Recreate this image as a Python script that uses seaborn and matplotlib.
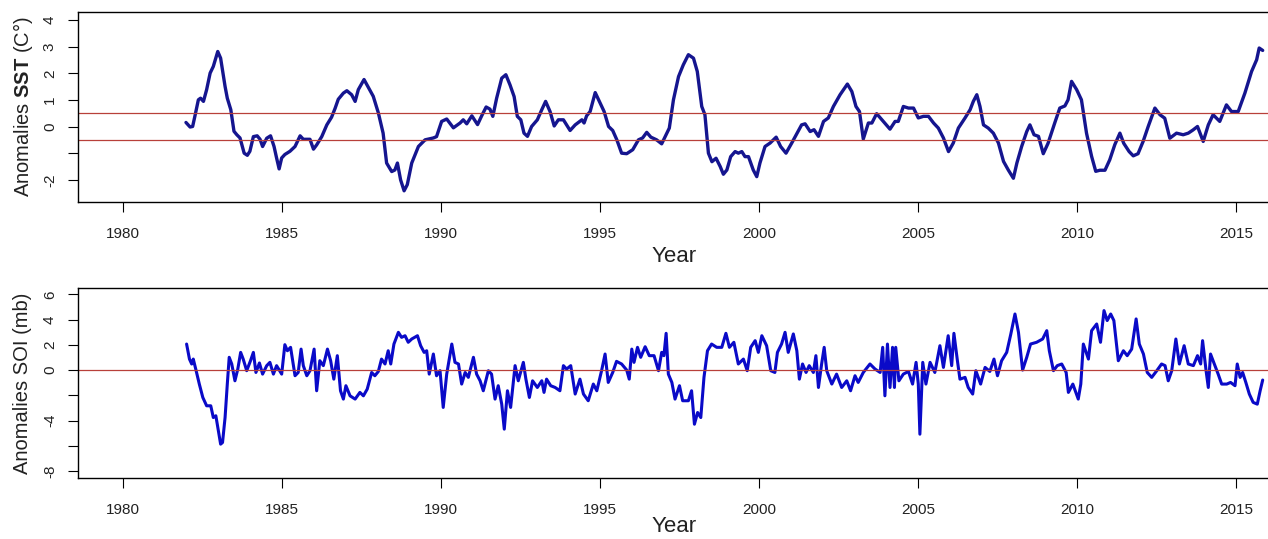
import pandas as pd
import matplotlib
matplotlib.use('Agg')
import matplotlib.pyplot as plt
import seaborn as sns

# SST anomalies (C°)
sst_year = [1981.98, 1982.11, 1982.19, 1982.26, 1982.37, 1982.44, 1982.53, 1982.63, 1982.74, 1982.84,
            1982.98, 1983.07, 1983.21, 1983.28, 1983.39, 1983.49, 1983.58, 1983.68, 1983.81, 1983.91,
            1983.99, 1984.10, 1984.22, 1984.31, 1984.39, 1984.52, 1984.64, 1984.75, 1984.83, 1984.91,
            1984.99, 1985.09, 1985.25, 1985.41, 1985.57, 1985.67, 1985.78, 1985.88, 1985.99, 1986.09,
            1986.25, 1986.41, 1986.56, 1986.67, 1986.77, 1986.93, 1987.04, 1987.19, 1987.30, 1987.40,
            1987.58, 1987.71, 1987.87, 1988.03, 1988.18, 1988.29, 1988.45, 1988.55, 1988.63, 1988.73,
            1988.84, 1988.94, 1989.08, 1989.29, 1989.50, 1989.76, 1989.86, 1990.02, 1990.18, 1990.39,
            1990.60, 1990.70, 1990.81, 1990.97, 1991.15, 1991.28, 1991.42, 1991.54, 1991.63, 1991.75,
            1991.91, 1992.04, 1992.17, 1992.30, 1992.40, 1992.51, 1992.61, 1992.72, 1992.85, 1993.03,
            1993.17, 1993.29, 1993.43, 1993.56, 1993.69, 1993.85, 1994.06, 1994.22, 1994.43, 1994.50,
            1994.58, 1994.69, 1994.85, 1994.98, 1995.13, 1995.27, 1995.40, 1995.53, 1995.68, 1995.84,
            1996.03, 1996.21, 1996.34, 1996.47, 1996.60, 1996.78, 1996.94, 1997.08, 1997.18, 1997.31,
            1997.47, 1997.62, 1997.78, 1997.94, 1998.06, 1998.20, 1998.30, 1998.41, 1998.52, 1998.65,
            1998.78, 1998.88, 1998.99, 1999.11, 1999.25, 1999.35, 1999.46, 1999.56, 1999.67, 1999.82,
            1999.93, 2000.03, 2000.19, 2000.35, 2000.54, 2000.68, 2000.85, 2001.03, 2001.19, 2001.34,
            2001.45, 2001.61, 2001.73, 2001.87, 2002.03, 2002.18, 2002.34, 2002.55, 2002.78, 2002.92,
            2003.05, 2003.16, 2003.28, 2003.44, 2003.55, 2003.70, 2003.91, 2004.12, 2004.28, 2004.38,
            2004.54, 2004.70, 2004.86, 2005.01, 2005.17, 2005.33, 2005.49, 2005.64, 2005.80, 2005.96,
            2006.11, 2006.27, 2006.48, 2006.64, 2006.74, 2006.85, 2006.95, 2007.06, 2007.21, 2007.37,
            2007.53, 2007.69, 2007.84, 2008.00, 2008.11, 2008.26, 2008.42, 2008.52, 2008.65, 2008.79,
            2008.94, 2009.09, 2009.30, 2009.46, 2009.62, 2009.72, 2009.83, 2009.99, 2010.14, 2010.30,
            2010.46, 2010.59, 2010.72, 2010.88, 2011.03, 2011.19, 2011.35, 2011.47, 2011.64, 2011.77,
            2011.92, 2012.08, 2012.24, 2012.45, 2012.61, 2012.76, 2012.92, 2013.13, 2013.34, 2013.50,
            2013.65, 2013.79, 2013.97, 2014.13, 2014.28, 2014.49, 2014.70, 2014.86, 2015.07, 2015.28,
            2015.49, 2015.65, 2015.73, 2015.84]
sst_anom = [0.16, -0.01, 0.01, 0.39, 1.01, 1.07, 0.95, 1.39, 2.01, 2.26,
            2.82, 2.57, 1.51, 1.07, 0.64, -0.17, -0.30, -0.42, -0.99, -1.07,
            -0.92, -0.37, -0.34, -0.47, -0.74, -0.43, -0.34, -0.74, -1.17, -1.58,
            -1.17, -1.04, -0.92, -0.74, -0.34, -0.47, -0.47, -0.47, -0.84, -0.68,
            -0.37, 0.07, 0.36, 0.69, 1.03, 1.26, 1.35, 1.20, 0.95, 1.39,
            1.77, 1.49, 1.14, 0.52, -0.24, -1.36, -1.68, -1.62, -1.36, -1.99,
            -2.40, -2.17, -1.36, -0.74, -0.49, -0.42, -0.37, 0.20, 0.29, -0.04,
            0.14, 0.26, 0.11, 0.41, 0.08, 0.41, 0.74, 0.66, 0.39, 1.07,
            1.82, 1.95, 1.57, 1.13, 0.39, 0.26, -0.24, -0.36, 0.01, 0.26,
            0.64, 0.95, 0.57, 0.03, 0.26, 0.26, -0.14, 0.07, 0.26, 0.14,
            0.41, 0.57, 1.28, 0.95, 0.57, 0.01, -0.14, -0.49, -0.99, -1.01,
            -0.86, -0.49, -0.42, -0.21, -0.39, -0.49, -0.64, -0.30, -0.05, 1.01,
            1.88, 2.32, 2.70, 2.57, 2.07, 0.76, 0.45, -0.99, -1.31, -1.18,
            -1.49, -1.78, -1.62, -1.12, -0.93, -0.99, -0.93, -1.12, -1.12, -1.62,
            -1.87, -1.36, -0.74, -0.61, -0.39, -0.74, -0.99, -0.61, -0.26, 0.07,
            0.11, -0.18, -0.11, -0.36, 0.20, 0.33, 0.76, 1.20, 1.60, 1.32,
            0.76, 0.57, -0.46, 0.14, 0.14, 0.49, 0.20, -0.09, 0.20, 0.20,
            0.76, 0.70, 0.70, 0.33, 0.39, 0.39, 0.14, -0.05, -0.42, -0.93,
            -0.61, -0.05, 0.33, 0.64, 0.95, 1.20, 0.76, 0.07, -0.05, -0.24,
            -0.61, -1.30, -1.62, -1.93, -1.36, -0.74, -0.18, 0.07, -0.30, -0.36,
            -1.01, -0.62, 0.14, 0.70, 0.78, 1.01, 1.70, 1.39, 1.01, -0.24,
            -1.11, -1.67, -1.63, -1.63, -1.24, -0.67, -0.24, -0.62, -0.93, -1.09,
            -1.01, -0.55, 0.01, 0.70, 0.45, 0.32, -0.43, -0.24, -0.30, -0.24,
            -0.12, 0.01, -0.55, 0.07, 0.45, 0.20, 0.82, 0.57, 0.57, 1.26,
            2.07, 2.51, 2.95, 2.86]

# SOI anomalies (mb)
soi_year = [1982.00, 1982.09, 1982.16, 1982.21, 1982.30, 1982.40, 1982.51, 1982.63, 1982.76, 1982.84,
            1982.92, 1983.00, 1983.07, 1983.13, 1983.21, 1983.28, 1983.34, 1983.42, 1983.52, 1983.61,
            1983.70, 1983.78, 1983.89, 1984.01, 1984.10, 1984.18, 1984.29, 1984.39, 1984.52, 1984.62,
            1984.73, 1984.83, 1984.99, 1985.09, 1985.17, 1985.27, 1985.41, 1985.51, 1985.60, 1985.67,
            1985.78, 1985.88, 1986.01, 1986.09, 1986.19, 1986.30, 1986.43, 1986.53, 1986.63, 1986.74,
            1986.84, 1986.93, 1987.01, 1987.14, 1987.30, 1987.45, 1987.56, 1987.68, 1987.82, 1987.92,
            1988.03, 1988.13, 1988.24, 1988.34, 1988.42, 1988.52, 1988.66, 1988.76, 1988.87, 1988.97,
            1989.08, 1989.26, 1989.36, 1989.47, 1989.55, 1989.63, 1989.76, 1989.86, 1989.97, 1990.07,
            1990.18, 1990.34, 1990.44, 1990.55, 1990.65, 1990.76, 1990.86, 1991.02, 1991.12, 1991.23,
            1991.33, 1991.49, 1991.59, 1991.70, 1991.80, 1991.91, 1991.99, 1992.09, 1992.19, 1992.33,
            1992.43, 1992.59, 1992.67, 1992.78, 1992.88, 1993.03, 1993.17, 1993.24, 1993.32, 1993.45,
            1993.59, 1993.74, 1993.85, 1993.95, 1994.08, 1994.22, 1994.37, 1994.48, 1994.63, 1994.79,
            1994.90, 1995.05, 1995.16, 1995.26, 1995.40, 1995.52, 1995.68, 1995.84, 1995.92, 1996.00,
            1996.07, 1996.18, 1996.28, 1996.42, 1996.55, 1996.70, 1996.84, 1996.94, 1997.01, 1997.08,
            1997.15, 1997.26, 1997.36, 1997.50, 1997.60, 1997.78, 1997.88, 1997.97, 1998.07, 1998.17,
            1998.27, 1998.38, 1998.51, 1998.67, 1998.83, 1998.96, 1999.07, 1999.21, 1999.35, 1999.51,
            1999.63, 1999.74, 1999.88, 1999.98, 2000.09, 2000.24, 2000.37, 2000.50, 2000.58, 2000.71,
            2000.82, 2000.92, 2001.08, 2001.19, 2001.27, 2001.37, 2001.48, 2001.58, 2001.71, 2001.79,
            2001.87, 2001.97, 2002.05, 2002.13, 2002.29, 2002.44, 2002.60, 2002.76, 2002.88, 2003.02,
            2003.12, 2003.28, 2003.49, 2003.65, 2003.81, 2003.89, 2003.96, 2004.04, 2004.12, 2004.20,
            2004.26, 2004.30, 2004.40, 2004.54, 2004.70, 2004.83, 2004.94, 2005.01, 2005.06, 2005.15,
            2005.25, 2005.38, 2005.53, 2005.69, 2005.80, 2005.95, 2006.06, 2006.13, 2006.24, 2006.32,
            2006.48, 2006.58, 2006.72, 2006.82, 2006.97, 2007.11, 2007.26, 2007.39, 2007.50, 2007.63,
            2007.79, 2007.92, 2008.05, 2008.16, 2008.29, 2008.42, 2008.54, 2008.73, 2008.92, 2009.05,
            2009.13, 2009.26, 2009.38, 2009.52, 2009.66, 2009.73, 2009.87, 2010.04, 2010.12, 2010.20,
            2010.36, 2010.46, 2010.62, 2010.74, 2010.85, 2010.95, 2011.06, 2011.16, 2011.30, 2011.46,
            2011.58, 2011.72, 2011.86, 2011.96, 2012.09, 2012.21, 2012.35, 2012.51, 2012.66, 2012.77,
            2012.87, 2012.98, 2013.11, 2013.22, 2013.37, 2013.50, 2013.66, 2013.79, 2013.89, 2013.95,
            2014.06, 2014.13, 2014.20, 2014.34, 2014.44, 2014.55, 2014.71, 2014.83, 2014.97, 2015.04,
            2015.13, 2015.21, 2015.31, 2015.42, 2015.54, 2015.67, 2015.76, 2015.84]
soi_anom = [2.06, 0.87, 0.48, 0.87, -0.05, -1.11, -2.17, -2.83, -2.83, -3.76,
            -3.62, -4.81, -5.87, -5.74, -3.76, -1.11, 1.01, 0.48, -0.85, 0.08,
            1.40, 0.87, -0.05, 0.74, 1.40, -0.19, 0.56, -0.32, 0.35, 0.61,
            -0.32, 0.35, -0.32, 2.01, 1.53, 1.80, -0.45, -0.19, 1.66, 0.35,
            -0.45, -0.05, 1.66, -1.64, 0.74, 0.35, 1.66, 0.74, -0.72, 1.14,
            -1.64, -2.30, -1.24, -2.04, -2.30, -1.77, -2.04, -1.51, -0.19, -0.45,
            -0.11, 0.87, 0.48, 1.53, 0.48, 2.06, 2.99, 2.59, 2.72, 2.20,
            2.46, 2.72, 1.93, 1.40, 1.53, -0.32, 1.27, -0.45, -0.05, -2.96,
            -0.32, 2.06, 0.61, 0.48, -1.11, -0.19, -0.58, 1.01, -0.32, -0.85,
            -1.64, -0.05, -0.32, -2.30, -1.24, -2.70, -4.68, -1.64, -2.96, 0.35,
            -0.85, 0.61, -0.72, -2.17, -0.85, -1.38, -0.85, -1.77, -0.72, -1.24,
            -1.38, -1.64, 0.35, 0.08, 0.35, -1.90, -0.72, -1.90, -2.43, -1.11,
            -1.64, -0.05, 1.27, -0.98, -0.19, 0.69, 0.48, 0.00, -0.72, 1.66,
            0.61, 1.80, 1.01, 1.85, 1.14, 1.14, -0.05, 1.40, 1.14, 2.91,
            -0.32, -0.98, -2.30, -1.24, -2.43, -2.43, -1.64, -4.29, -3.36, -3.76,
            -0.58, 1.53, 2.06, 1.80, 1.80, 2.91, 1.80, 2.20, 0.48, 0.87,
            -0.05, 1.80, 2.33, 1.40, 2.72, 1.93, -0.05, -0.19, 1.40, 2.06,
            2.99, 1.40, 2.86, 1.53, -0.72, 0.48, -0.19, 0.35, -0.19, 1.14,
            -1.38, 0.48, 1.80, -0.05, -1.11, -0.32, -1.38, -0.85, -1.64, -0.45,
            -0.98, -0.19, 0.48, 0.08, -0.19, 1.80, -2.04, 2.06, -1.38, 1.80,
            -1.38, 1.80, -0.85, -0.32, -0.11, -1.11, 0.61, -1.11, -5.08, 0.61,
            -1.11, 0.61, -0.19, 1.93, 0.21, 2.72, 0.35, 2.91, 0.74, -0.72,
            -0.58, -1.38, -1.90, -0.05, -1.11, 0.21, -0.11, 0.87, -0.45, 0.74,
            1.40, 2.86, 4.44, 2.99, 0.00, 1.01, 2.06, 2.20, 2.46, 3.12,
            1.53, -0.05, 0.35, 0.48, -0.19, -1.77, -1.11, -2.30, -1.11, 2.06,
            0.87, 3.12, 3.65, 2.20, 4.71, 3.92, 4.44, 3.92, 0.74, 1.53,
            1.14, 1.66, 4.05, 2.06, 1.27, -0.19, -0.58, -0.05, 0.48, 0.35,
            -0.85, -0.05, 2.46, 0.48, 1.93, 0.48, 0.35, 1.14, 0.48, 2.33,
            -0.05, -1.38, 1.27, 0.35, -0.32, -1.11, -1.11, -0.98, -1.24, 0.48,
            -0.58, -0.19, -0.98, -1.90, -2.56, -2.70, -1.64, -0.79]

sst_ticks = [-2, -1, 0, 1, 2, 3, 4]
sst_labels = ['-2', '', '0', '1', '2', '3', '4']
soi_ticks = [-8, -6, -4, -2, 0, 2, 4, 6]
soi_labels = ['-8', '', '-4', '', '0', '2', '4', '6']
year_ticks = [1980, 1985, 1990, 1995, 2000, 2005, 2010, 2015]

sst = pd.DataFrame({'year': sst_year, 'anom': sst_anom})
soi = pd.DataFrame({'year': soi_year, 'anom': soi_anom})

sns.set_style('white')
plt.rcParams['font.family'] = ['Liberation Sans', 'DejaVu Sans']
plt.rcParams['mathtext.fontset'] = 'custom'
plt.rcParams['mathtext.rm'] = 'Liberation Sans'
plt.rcParams['mathtext.bf'] = 'Liberation Sans:bold'

W, H = 1268, 539
fig = plt.figure(figsize=(W / 100, H / 100), dpi=100)
ax1 = fig.add_axes([78 / W, (H - 202) / H, (1270 - 78) / W, 190 / H])
ax2 = fig.add_axes([78 / W, (H - 478) / H, (1270 - 78) / W, 190 / H])

sns.lineplot(data=sst, x='year', y='anom', ax=ax1, color='#15158F', linewidth=2.4)
ax1.axhline(0.5, color='#B8403A', linewidth=0.9)
ax1.axhline(-0.5, color='#B8403A', linewidth=0.9)

sns.lineplot(data=soi, x='year', y='anom', ax=ax2, color='#0A0AC8', linewidth=2.2)
ax2.axhline(0, color='#B8403A', linewidth=0.9)

for ax, ticks, labels, ylim in [(ax1, sst_ticks, sst_labels, (-2.82, 4.30)),
                                (ax2, soi_ticks, soi_labels, (-8.55, 6.5))]:
    ax.set_xlim(1978.585, 2016.07)
    ax.set_ylim(*ylim)
    ax.set_xticks(year_ticks)
    ax.set_xticklabels([str(y) for y in year_ticks])
    ax.set_yticks(ticks)
    ax.set_yticklabels(labels, rotation=90, va='center')
    ax.tick_params(axis='both', direction='out', length=7.2, width=0.8, color='black',
                   labelsize=11, labelcolor='#222222', left=True, bottom=True)
    ax.tick_params(axis='x', pad=10.5)
    ax.tick_params(axis='y', pad=8)
    for s in ax.spines.values():
        s.set_color('black')
        s.set_linewidth(1.0)
    ax.set_xlabel('Year', fontsize=16, color='#222222')
    ax.xaxis.label.set_va('center')

ax1.set_ylabel(r'Anomalies $\mathbf{SST}$ (C°)', fontsize=14.5, color='#222222')
ax2.set_ylabel('Anomalies SOI (mb)', fontsize=14.5, color='#222222')
for ax in (ax1, ax2):
    ax.yaxis.label.set_va('center')
    ax.yaxis.set_label_coords(-55 / 1192, 0.5)

ax1.xaxis.set_label_coords(0.5, -55 / 190)
ax2.xaxis.set_label_coords(0.5, -49 / 190)

fig.savefig('out.png', dpi=100)
